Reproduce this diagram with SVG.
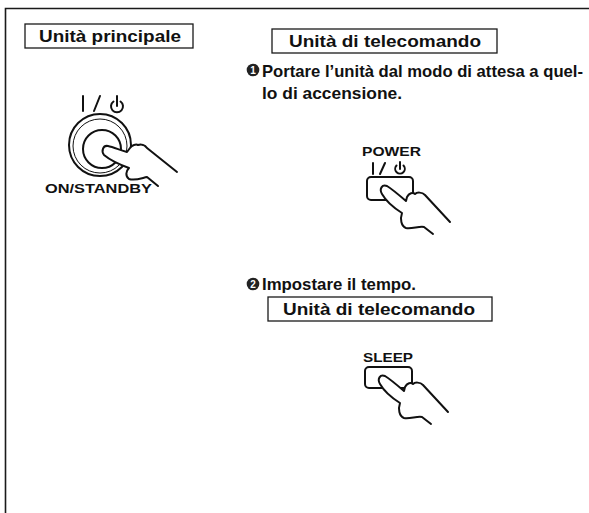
<svg xmlns="http://www.w3.org/2000/svg" xmlns:xlink="http://www.w3.org/1999/xlink" width="589" height="513" viewBox="0 0 589 513">
  <style>
    .frame { fill: none; stroke: #1a1a1a; stroke-width: 1.6; }
    .box { fill: #fff; stroke: #1a1a1a; stroke-width: 1.3; }
    .title { font-family: "Liberation Sans", Arial, sans-serif; font-weight: bold; font-size: 17px; fill: #111; }
    .body { font-family: "Liberation Sans", Arial, sans-serif; font-weight: bold; font-size: 16.5px; fill: #111; }
    .label { font-family: "Liberation Sans", Arial, sans-serif; font-weight: bold; font-size: 12px; fill: #111; }
    .ink { fill: none; stroke: #111; stroke-width: 2; stroke-linecap: round; stroke-linejoin: round; }
    .thin { fill: none; stroke: #111; stroke-width: 1; }
    .cover { fill: #fff; stroke: none; }
    .bullet { fill: #222; }
    .num { font-family: "Liberation Sans", Arial, sans-serif; font-weight: bold; font-size: 10px; fill: #fff; text-anchor: middle; }
  </style>
  <defs>
    <!-- hand pressing a small rectangular remote key; origin = key top-left -->
    <g id="hand">
      <path class="cover" d="M83,45 L58,18 C55,15 50,15 48,17 C46,15 42,16 40,20 L39,24 C32,18 25,12 20,9 C15,7 12,12 15,17 C19,24 27,31 35,36 C33,42 34,49 39,51 C45,52 52,49 57,50 L66,57 L90,55 Z"/>
      <path class="ink" d="M83,45 L58,18 C55,15 50,15 48,17 C46,15 42,16 40,20 L39,24 C32,18 25,12 20,9 C15,7 12,12 15,17 C19,24 27,31 35,36 C33,42 34,49 39,51 C45,52 52,49 57,50 L66,57"/>
    </g>
  </defs>

  <rect width="589" height="513" fill="#fff"/>

  <!-- page frame: top rule and left rule -->
  <path class="frame" d="M589,8.5 L5.5,8.5 L5.5,513"/>

  <!-- main unit -->
  <g id="main-unit-header">
    <rect class="box" x="25" y="24" width="168" height="24"/>
    <text class="title" x="39" y="42" textLength="142" lengthAdjust="spacingAndGlyphs">Unità principale</text>
  </g>

  <g id="main-unit-button">
    <!-- I / standby symbol -->
    <path class="ink" d="M83,96 L83,111"/>
    <path class="ink" d="M94,111 L100,96"/>
    <path class="ink" d="M113.5,101.5 A6,6 0 1 0 120.5,101.5"/>
    <path class="ink" d="M117,96 L117,106"/>
    <!-- concentric rings of the power button -->
    <circle class="ink" cx="100" cy="145" r="31"/>
    <circle class="thin" cx="100" cy="146" r="27"/>
    <circle class="ink" cx="102" cy="149" r="19" stroke-width="2.4"/>
    <!-- pressing hand -->
    <path class="cover" d="M177,172 L147,148 C145,145 141,144 138,145 C136,144 132,145 130,148 L127,152 C120,150 113,147 108,146 C103,145 101,151 104,155 C110,160 118,164 129,168 C126,171 125,176 129,179 C135,181 142,178 147,177 L158,186 L180,180 Z"/>
    <path class="ink" d="M177,172 L147,148 C145,145 141,144 138,145 C136,144 132,145 130,148 L127,152 C120,150 113,147 108,146 C103,145 101,151 104,155 C110,160 118,164 129,168 C126,171 125,176 129,179 C135,181 142,178 147,177 L158,186"/>
    <text class="label" x="45" y="193" textLength="107" lengthAdjust="spacingAndGlyphs">ON/STANDBY</text>
  </g>

  <!-- remote unit, step 1 -->
  <g id="remote-header-1">
    <rect class="box" x="272" y="29" width="225" height="24"/>
    <text class="title" x="289" y="47" textLength="192" lengthAdjust="spacingAndGlyphs">Unità di telecomando</text>
  </g>

  <g id="step-1">
    <circle class="bullet" cx="253" cy="70" r="6.3"/>
    <text class="num" x="253" y="73.5">1</text>
    <text class="body" x="262" y="77" textLength="321" lengthAdjust="spacingAndGlyphs">Portare l’unità dal modo di attesa a quel-</text>
    <text class="body" x="262" y="99" textLength="140" lengthAdjust="spacingAndGlyphs">lo di accensione.</text>
  </g>

  <g id="power-key">
    <text class="label" x="362" y="156" textLength="59" lengthAdjust="spacingAndGlyphs">POWER</text>
    <path class="ink" d="M373,163 L373,174"/>
    <path class="ink" d="M380,174 L385,163"/>
    <path class="ink" d="M396.5,165.5 A4.8,4.8 0 1 0 403.5,165.5"/>
    <path class="ink" d="M400,162 L400,169"/>
    <rect class="ink" x="367" y="177" width="46" height="23" rx="4" stroke-width="2.2"/>
    <use xlink:href="#hand" href="#hand" transform="translate(367,177)"/>
  </g>

  <!-- step 2 -->
  <g id="step-2">
    <circle class="bullet" cx="253" cy="284" r="6.3"/>
    <text class="num" x="253" y="287.5">2</text>
    <text class="body" x="262" y="290" textLength="154" lengthAdjust="spacingAndGlyphs">Impostare il tempo.</text>
  </g>

  <g id="remote-header-2">
    <rect class="box" x="268" y="297" width="224" height="24"/>
    <text class="title" x="283" y="315" textLength="192" lengthAdjust="spacingAndGlyphs">Unità di telecomando</text>
  </g>

  <g id="sleep-key">
    <text class="label" x="363" y="362" textLength="50" lengthAdjust="spacingAndGlyphs">SLEEP</text>
    <rect class="ink" x="365" y="367" width="47" height="21" rx="4" stroke-width="2.2"/>
    <use xlink:href="#hand" href="#hand" transform="translate(365,367)"/>
  </g>
</svg>
